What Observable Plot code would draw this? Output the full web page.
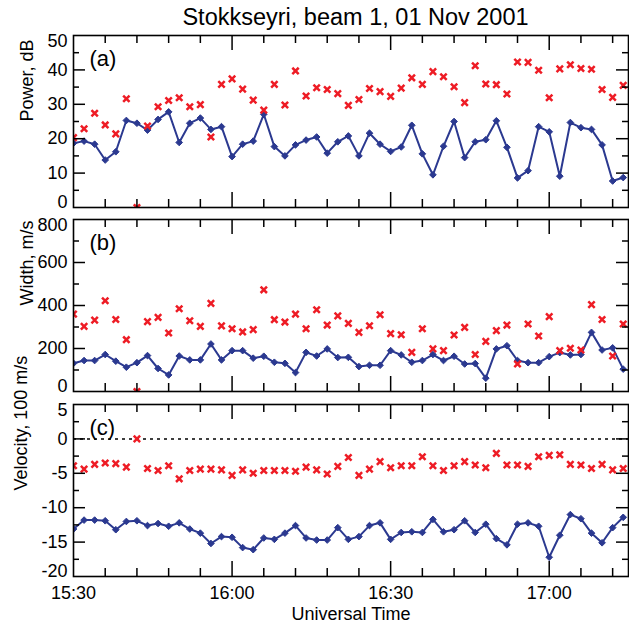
<!DOCTYPE html>
<html>
<head>
<meta charset="utf-8">
<script src="https://cdn.jsdelivr.net/npm/d3@7"></script>
<script src="https://cdn.jsdelivr.net/npm/@observablehq/plot@0.6"></script>
<style>
  body { margin: 0; background: #fff; }
  #chart { position: relative; width: 629px; height: 624px; font-family: "Liberation Sans", Arial, sans-serif; }
  #title { position: absolute; left: 41px; width: 629px; top: 6px; text-align: center; font-size: 23.5px; line-height: 23.5px; color: #000; }
</style>
</head>
<body>
<div id="chart"><div id="title">Stokkseyri, beam 1, 01 Nov 2001</div></div>
<script>
// Sample times (UT), one record every two minutes
const times = [
  "15:30","15:32","15:34","15:36","15:38","15:40","15:42","15:44","15:46","15:48",
  "15:50","15:52","15:54","15:56","15:58","16:00","16:02","16:04","16:06","16:08",
  "16:10","16:12","16:14","16:16","16:18","16:20","16:22","16:24","16:26","16:28",
  "16:30","16:32","16:34","16:36","16:38","16:40","16:42","16:44","16:46","16:48",
  "16:50","16:52","16:54","16:56","16:58","17:00","17:02","17:04","17:06","17:08",
  "17:10","17:12","17:14"
];

// (a) power, dB
const powerLine = [
  18.7,19.3,18.4,13.8,16.2,25.3,24.5,22.5,25.6,27.8,
  18.9,24.5,26.0,22.7,23.5,14.8,18.4,19.3,27.1,17.7,
  15.0,18.2,19.6,20.5,15.8,19.1,20.8,15.0,21.6,18.4,
  16.3,17.6,23.9,15.6,9.5,17.8,25.0,14.5,19.1,19.7,
  25.2,17.5,8.6,10.7,23.5,22.0,9.1,24.7,23.2,22.7,
  18.2,7.7,8.7
];
const powerCross = [
  20.3,22.9,27.4,24.0,21.4,31.6,0,23.7,29.3,31.1,
  31.9,29.3,29.9,20.5,35.8,37.4,34.4,31.2,28.3,35.8,
  29.8,39.7,32.4,34.8,34.3,33.1,29.7,31.4,34.6,33.7,
  32.3,34.7,37.7,35.8,39.5,38.0,35.1,30.5,41.2,35.9,
  35.7,33.0,42.3,42.2,39.9,31.9,40.3,41.5,40.4,40.2,
  34.3,32.0,35.5
];

// (b) spectral width, m/s
const widthLine = [
  131,144,144,172,141,113,134,167,107,77,
  165,147,147,221,147,190,190,155,164,136,
  131,88,182,165,198,158,159,116,122,122,
  190,170,136,144,172,144,164,128,130,62,
  198,213,144,134,134,162,181,170,172,275,
  193,203,104
];
const widthCross = [
  360,303,332,422,335,241,0,325,345,272,
  385,329,303,410,305,292,277,288,473,334,
  323,360,292,380,309,352,317,275,306,357,
  269,264,182,292,198,190,263,298,172,233,
  283,309,128,314,258,348,190,201,193,404,
  335,165,314
];

// (c) line-of-sight velocity, 100 m/s
const velLine = [
  -13.1,-11.8,-11.8,-11.9,-13.2,-12.0,-11.9,-12.6,-12.3,-12.7,
  -12.2,-13.1,-13.7,-15.2,-14.2,-14.3,-15.8,-16.1,-14.4,-14.6,
  -13.7,-12.6,-14.4,-14.7,-14.7,-12.9,-14.6,-14.2,-12.6,-12.2,
  -14.6,-13.6,-13.5,-13.6,-11.7,-13.5,-13.2,-11.9,-13.6,-12.4,
  -14.5,-15.4,-12.4,-12.2,-12.7,-17.2,-14.0,-11.0,-11.6,-13.7,
  -15.1,-12.9,-11.4
];
const velCross = [
  -3.9,-4.4,-3.7,-3.5,-3.6,-4.1,0,-4.3,-4.6,-3.9,
  -5.8,-4.6,-4.4,-4.4,-4.5,-5.3,-4.5,-5.0,-4.6,-4.6,
  -4.6,-4.7,-4.1,-4.5,-5.1,-4.0,-2.7,-5.3,-4.4,-3.3,
  -4.2,-3.9,-3.9,-2.6,-3.9,-4.6,-3.9,-3.3,-3.8,-4.2,
  -2.1,-3.8,-3.8,-4.0,-2.6,-2.4,-2.3,-3.7,-3.8,-4.3,
  -3.7,-4.5,-4.3
];

// Time axis
const timeDomain = ["15:30", "17:15"];
const timeMajor = ["15:30", "16:00", "16:30", "17:00"];
const timeMinor = ["15:36","15:42","15:48","15:54","16:06","16:12","16:18","16:24",
                   "16:36","16:42","16:48","16:54","17:06","17:12"];

const parse = d3.utcParse("%H:%M");
const BLUE = "#2b3990";
const RED = "#ee1c25";
const FONT = "'Liberation Sans', Arial, Helvetica, sans-serif";

const W = 629, ML = 73, MR = 1, MT = 5, FRAME_H = 172;
const PLOT_W = W - ML - MR;

function panel({top, domain, yMajor, yMinor, label, labelDx, letter, line, cross, zeroLine, timeLabels}) {
  const MB = timeLabels ? 45 : 5;
  const rows = times.map((t, i) => ({t: parse(t), a: line[i], b: cross[i]}));
  const tMajor = timeMajor.map(parse), tMinor = timeMinor.map(parse);
  const inner = yMajor.filter(v => v !== domain[0] && v !== domain[1]);
  const tickStyle = {stroke: "black", strokeWidth: 1.5};
  // plain hyphen-minus for negative labels
  const labelStyle = {tickSize: 0, tickPadding: 6, fontSize: 18, label: null, tickFormat: d => String(d)};

  const marks = [];
  if (zeroLine) marks.push(Plot.ruleY([0], {stroke: "black", strokeWidth: 1.5, strokeDasharray: "3,4"}));
  marks.push(
    Plot.line(rows, {x: "t", y: "a", stroke: BLUE, strokeWidth: 2, clip: true}),
    Plot.dot(rows, {x: "t", y: "a", symbol: "diamond2", r: 3, fill: BLUE, stroke: BLUE, strokeWidth: 1, clip: true}),
    Plot.dot(rows, {x: "t", y: "b", symbol: "times", r: 3, stroke: RED, strokeWidth: 2.5, clip: true}),
    // inward ticks on all four sides
    Plot.ruleX(tMajor.slice(1), {x: d => d, insetTop: FRAME_H - 15, ...tickStyle}),
    Plot.ruleX(tMajor.slice(1), {x: d => d, insetBottom: FRAME_H - 15, ...tickStyle}),
    Plot.ruleX(tMinor, {x: d => d, insetTop: FRAME_H - 8, ...tickStyle}),
    Plot.ruleX(tMinor, {x: d => d, insetBottom: FRAME_H - 8, ...tickStyle}),
    Plot.ruleY(inner, {y: d => d, insetRight: PLOT_W - 12, ...tickStyle}),
    Plot.ruleY(inner, {y: d => d, insetLeft: PLOT_W - 12, ...tickStyle}),
    Plot.ruleY(yMinor, {y: d => d, insetRight: PLOT_W - 6, ...tickStyle}),
    Plot.ruleY(yMinor, {y: d => d, insetLeft: PLOT_W - 6, ...tickStyle}),
    Plot.frame({stroke: "black", strokeWidth: 1.6}),
    // y tick labels; the end labels sit just inside the frame
    Plot.axisY({ticks: inner, ...labelStyle}),
    Plot.axisY({ticks: [domain[1]], dy: 6, ...labelStyle}),
    Plot.axisY({ticks: [domain[0]], dy: -5, ...labelStyle}),
    Plot.text([letter], {text: d => d, frameAnchor: "top-left", dx: 16, dy: 15, textAnchor: "start", lineAnchor: "top", fontSize: 22}),
    Plot.text([label], {text: d => d, frameAnchor: "left", rotate: -90, dx: labelDx, lineAnchor: "middle", fontSize: 18})
  );
  if (timeLabels) {
    marks.push(
      Plot.axisX({ticks: tMajor, tickFormat: "%H:%M", tickSize: 0, tickPadding: 10, fontSize: 18, label: null}),
      Plot.text(["Universal Time"], {text: d => d, frameAnchor: "bottom", dy: 38, lineAnchor: "middle", fontSize: 18})
    );
  }

  const svg = Plot.plot({
    width: W, height: MT + FRAME_H + MB,
    marginLeft: ML, marginRight: MR, marginTop: MT, marginBottom: MB,
    x: {type: "utc", domain: timeDomain.map(parse), axis: null},
    y: {domain, axis: null},
    style: {fontFamily: FONT, fontSize: "18px", color: "black", background: "transparent", overflow: "visible"},
    marks
  });
  svg.style.position = "absolute";
  svg.style.left = "0px";
  svg.style.top = top + "px";
  document.getElementById("chart").appendChild(svg);
}

panel({top: 29.5, domain: [0, 50], yMajor: [0, 10, 20, 30, 40, 50], yMinor: [5, 15, 25, 35, 45],
  label: "Power, dB", labelDx: -46, letter: "(a)", line: powerLine, cross: powerCross});
panel({top: 214, domain: [0, 800], yMajor: [0, 200, 400, 600, 800], yMinor: [100, 300, 500, 700],
  label: "Width, m/s", labelDx: -46, letter: "(b)", line: widthLine, cross: widthCross});
panel({top: 399, domain: [-20, 5], yMajor: [-20, -15, -10, -5, 0, 5], yMinor: [-17.5, -12.5, -7.5, -2.5, 2.5],
  label: "Velocity, 100 m/s", labelDx: -52, letter: "(c)", line: velLine, cross: velCross, zeroLine: true, timeLabels: true});
</script>
</body>
</html>
